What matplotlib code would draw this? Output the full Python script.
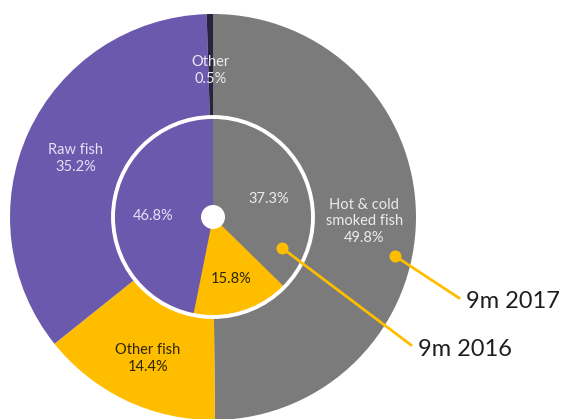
import matplotlib
matplotlib.use('Agg')
import matplotlib.pyplot as plt
from matplotlib.patches import Circle

# data (start at 12 o'clock, clockwise)
segments = ['Hot & cold\nsmoked fish', 'Other fish', 'Raw fish', 'Other']
share_2017 = [49.8, 14.4, 35.2, 0.5]
share_2016 = [37.3, 15.8, 46.8]
colours = ['#7b7b7b', '#ffbd00', '#6b59ae', '#27243f']
outer_text = ['#ececec', '#2e2504', '#e6e1f6', '#ececec']
inner_text = ['#ececec', '#2e2504', '#e6e1f6']
series = ['9m 2016', '9m 2017']

plt.rcParams['font.family'] = ['Lato', 'DejaVu Sans']

fig = plt.figure(figsize=(5.64, 4.19), dpi=100)
ax = fig.add_axes([0, 0, 1, 1])

CX, CY = 213, 202
R_OUT, R_IN, R_HOLE = 203, 100, 12
TEXT_DROP = 5  # labels sit a little under the wedge mid point

outer_labels = ['%s\n%.1f%%' % (s, v) for s, v in zip(segments, share_2017)]
w_out, t_out = ax.pie(share_2017, radius=R_OUT, center=(CX, CY), startangle=90,
                      counterclock=False, colors=colours, labels=outer_labels,
                      labeldistance=0.745,
                      textprops=dict(ha='center', va='center', fontsize=10.5,
                                     linespacing=1.25))
inner_labels = ['%.1f%%' % v for v in share_2016]
w_in, t_in = ax.pie(share_2016, radius=R_IN, center=(CX, CY), startangle=90,
                    counterclock=False, colors=colours[:3], labels=inner_labels,
                    labeldistance=0.6,
                    textprops=dict(ha='center', va='center', fontsize=10.5))

for t, c in zip(list(t_out) + list(t_in), outer_text + inner_text):
    t.set_color(c)
    t.set_horizontalalignment('center')
    x, y = t.get_position()
    t.set_position((x, y - TEXT_DROP))

ax.add_patch(Circle((CX, CY), R_IN, fill=False, ec='white', lw=2.8, zorder=5))
ax.add_patch(Circle((CX, CY), R_HOLE, fc='white', ec='none', zorder=6))

# callouts for the two rings
dots = [(282, 171), (395, 163)]
ends = [(411, 74), (459, 121)]
for name, d, e in zip(series, dots, ends):
    ax.plot([d[0], e[0]], [d[1], e[1]], color='#ffbd00', lw=2, zorder=7)
    ax.scatter([d[0]], [d[1]], s=75, color='#ffbd00', zorder=8, lw=0)
    ax.text(e[0] + 7, e[1] - 4, name, fontsize=17,
            color='#1e1e1e', ha='left', va='center')

ax.set_xlim(0, 564)
ax.set_ylim(0, 419)
ax.set_aspect('auto')
ax.axis('off')

fig.savefig('out.png', dpi=100)
